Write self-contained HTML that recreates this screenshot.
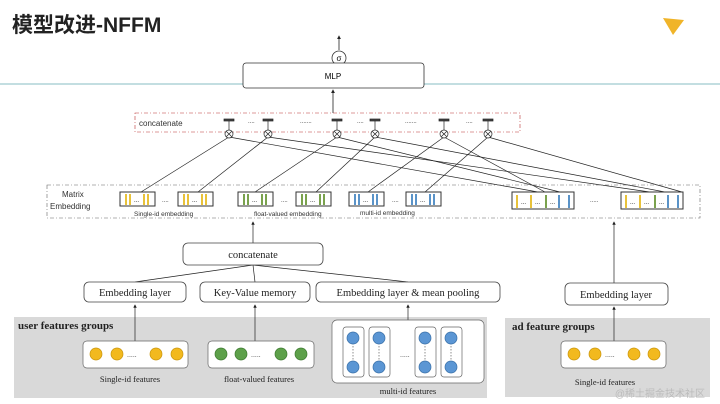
<!DOCTYPE html>
<html><head><meta charset="utf-8"><style>
html,body{margin:0;padding:0;background:#fff;}
svg{display:block;font-family:"Liberation Serif",serif;}
.s{font-family:"Liberation Sans",sans-serif;}
</style></head><body>
<svg width="720" height="404" viewBox="0 0 720 404" xmlns="http://www.w3.org/2000/svg">
<defs>
<marker id="a" markerWidth="5" markerHeight="5" refX="4" refY="2.5" orient="auto"><path d="M0,0L5,2.5L0,5z" fill="#222"/></marker>
<g id="yb"><rect x="0" y="0" width="35" height="14" fill="#fff" stroke="#333" stroke-width="1"/><rect x="5" y="2" width="2" height="11" fill="#e8c23a"/><rect x="9" y="2" width="2" height="11" fill="#e8c23a"/><text x="14" y="10" font-size="6" class="s">...</text><rect x="23" y="2" width="2" height="11" fill="#e8c23a"/><rect x="27" y="2" width="2" height="11" fill="#e8c23a"/></g>
<g id="gb"><rect x="0" y="0" width="35" height="14" fill="#fff" stroke="#333" stroke-width="1"/><rect x="5" y="2" width="2" height="11" fill="#7aa24d"/><rect x="9" y="2" width="2" height="11" fill="#7aa24d"/><text x="14" y="10" font-size="6" class="s">...</text><rect x="23" y="2" width="2" height="11" fill="#7aa24d"/><rect x="27" y="2" width="2" height="11" fill="#7aa24d"/></g>
<g id="bb"><rect x="0" y="0" width="35" height="14" fill="#fff" stroke="#333" stroke-width="1"/><rect x="5" y="2" width="2" height="11" fill="#5a93c8"/><rect x="9" y="2" width="2" height="11" fill="#5a93c8"/><text x="14" y="10" font-size="6" class="s">...</text><rect x="23" y="2" width="2" height="11" fill="#5a93c8"/><rect x="27" y="2" width="2" height="11" fill="#5a93c8"/></g>
<g id="mb"><rect x="0" y="0" width="62" height="17" fill="#fff" stroke="#333" stroke-width="1"/><rect x="4" y="3" width="2" height="13" fill="#e8c23a"/><text x="9" y="12" font-size="6" class="s">...</text><rect x="18" y="3" width="2" height="13" fill="#e8c23a"/><text x="23" y="12" font-size="6" class="s">...</text><rect x="33" y="3" width="2" height="13" fill="#7aa24d"/><text x="38" y="12" font-size="6" class="s">...</text><rect x="46" y="3" width="2" height="13" fill="#5a93c8"/><rect x="56" y="3" width="2" height="13" fill="#5a93c8"/></g>
<g id="dy"><circle r="6" fill="#f2b91e" stroke="#c9950d" stroke-width="0.7"/></g>
<g id="dg"><circle r="6" fill="#5da04a" stroke="#3d7a30" stroke-width="0.7"/></g>
<g id="db"><circle r="6" fill="#5b96d4" stroke="#3a70a8" stroke-width="0.7"/></g>
</defs>
<!-- header -->
<text x="12" y="32" font-size="21" font-weight="bold" class="s" fill="#222" font-family="Liberation Sans, Noto Sans CJK SC, sans-serif" style="font-family:'Liberation Sans','Noto Sans CJK SC',sans-serif">模型改进-NFFM</text>
<path d="M663,18 L684,20 L673,35 Z" fill="#f0b429"/>
<line x1="0" y1="84" x2="720" y2="84" stroke="#9fc9cf" stroke-width="1.2"/>
<!-- sigma and MLP -->
<line x1="339" y1="50" x2="339" y2="36" stroke="#222" stroke-width="0.8" marker-end="url(#a)"/>
<circle cx="339" cy="58" r="7" fill="#fff" stroke="#333" stroke-width="0.8"/>
<text x="339" y="61" font-size="8" text-anchor="middle" class="s">σ</text>
<line x1="339" y1="72" x2="339" y2="65" stroke="#222" stroke-width="0.8" marker-end="url(#a)"/>
<rect x="243" y="63" width="181" height="25" rx="3" fill="#fff" stroke="#333" stroke-width="0.8"/>
<text x="333" y="79" font-size="8" text-anchor="middle" class="s">MLP</text>
<line x1="333" y1="113" x2="333" y2="90" stroke="#222" stroke-width="0.8" marker-end="url(#a)"/>
<!-- concatenate box -->
<rect x="135" y="113" width="385" height="19" fill="none" stroke="#b33" stroke-width="0.6" stroke-dasharray="4,2,1,2"/>
<text x="139" y="126" font-size="8" class="s" fill="#333">concatenate</text>
<g stroke="#222" stroke-width="0.7" fill="#fff" class="s">
<g font-size="6" fill="#333" stroke="none">
<text x="248" y="123">....</text><text x="300" y="123">.......</text><text x="357" y="123">....</text><text x="405" y="123">.......</text><text x="466" y="123">....</text>
</g>
</g>
<g stroke="#222" stroke-width="0.7">
<!-- lines from crosses -->
<line x1="229" y1="137" x2="141" y2="192"/><line x1="229" y1="137" x2="538" y2="192"/>
<line x1="268" y1="137" x2="198" y2="192"/><line x1="268" y1="137" x2="650" y2="192"/>
<line x1="337" y1="137" x2="255" y2="192"/><line x1="337" y1="137" x2="560" y2="192"/>
<line x1="375" y1="137" x2="316" y2="192"/><line x1="375" y1="137" x2="665" y2="192"/>
<line x1="444" y1="137" x2="368" y2="192"/><line x1="444" y1="137" x2="545" y2="192"/>
<line x1="488" y1="137" x2="425" y2="192"/><line x1="488" y1="137" x2="682" y2="192"/>
</g>
<g stroke="#222" stroke-width="0.7" fill="#fff">
<g transform="translate(229,134)"><line x1="0" y1="-4" x2="0" y2="-13"/><rect x="-5" y="-15" width="10" height="2" fill="#444"/><circle r="4"/><path d="M-2.8,-2.8L2.8,2.8M2.8,-2.8L-2.8,2.8"/></g>
<g transform="translate(268,134)"><line x1="0" y1="-4" x2="0" y2="-13"/><rect x="-5" y="-15" width="10" height="2" fill="#444"/><circle r="4"/><path d="M-2.8,-2.8L2.8,2.8M2.8,-2.8L-2.8,2.8"/></g>
<g transform="translate(337,134)"><line x1="0" y1="-4" x2="0" y2="-13"/><rect x="-5" y="-15" width="10" height="2" fill="#444"/><circle r="4"/><path d="M-2.8,-2.8L2.8,2.8M2.8,-2.8L-2.8,2.8"/></g>
<g transform="translate(375,134)"><line x1="0" y1="-4" x2="0" y2="-13"/><rect x="-5" y="-15" width="10" height="2" fill="#444"/><circle r="4"/><path d="M-2.8,-2.8L2.8,2.8M2.8,-2.8L-2.8,2.8"/></g>
<g transform="translate(444,134)"><line x1="0" y1="-4" x2="0" y2="-13"/><rect x="-5" y="-15" width="10" height="2" fill="#444"/><circle r="4"/><path d="M-2.8,-2.8L2.8,2.8M2.8,-2.8L-2.8,2.8"/></g>
<g transform="translate(488,134)"><line x1="0" y1="-4" x2="0" y2="-13"/><rect x="-5" y="-15" width="10" height="2" fill="#444"/><circle r="4"/><path d="M-2.8,-2.8L2.8,2.8M2.8,-2.8L-2.8,2.8"/></g>
</g>
<!-- matrix embedding -->
<rect x="47" y="185" width="653" height="33" fill="none" stroke="#666" stroke-width="0.6" stroke-dasharray="4,2,1,2"/>
<text x="62" y="197" font-size="8" class="s" fill="#333">Matrix</text>
<text x="50" y="209" font-size="8" class="s" fill="#333">Embedding</text>
<use href="#yb" x="120" y="192"/><use href="#yb" x="178" y="192"/>
<use href="#gb" x="238" y="192"/><use href="#gb" x="296" y="192"/>
<use href="#bb" x="349" y="192"/><use href="#bb" x="406" y="192"/>
<use href="#mb" x="512" y="192"/><use href="#mb" x="621" y="192"/>
<g font-size="6" class="s" fill="#333"><text x="162" y="202">....</text><text x="281" y="202">....</text><text x="392" y="202">....</text><text x="590" y="202">.....</text></g>
<g font-size="6.5" class="s" fill="#333"><text x="134" y="216">Single-id embedding</text><text x="254" y="216">float-valued embedding</text><text x="360" y="215">multi-id embedding</text></g>
<!-- lower part -->
<rect x="14" y="317" width="473" height="81" fill="#d9d9d9"/>
<rect x="505" y="318" width="205" height="79" fill="#d9d9d9"/>
<g stroke="#222" stroke-width="0.7" fill="none">
<line x1="253" y1="243" x2="253" y2="222" marker-end="url(#a)"/>
<line x1="614" y1="283" x2="614" y2="222" marker-end="url(#a)"/>
<line x1="135" y1="282" x2="253" y2="265"/><line x1="255" y1="282" x2="253" y2="265"/><line x1="408" y1="282" x2="253" y2="265"/>
<line x1="135" y1="341" x2="135" y2="305" marker-end="url(#a)"/>
<line x1="255" y1="341" x2="255" y2="305" marker-end="url(#a)"/>
<line x1="408" y1="320" x2="408" y2="305" marker-end="url(#a)"/>
<line x1="614" y1="341" x2="614" y2="307" marker-end="url(#a)"/>
</g>
<g fill="#fff" stroke="#444" stroke-width="0.8">
<rect x="183" y="243" width="140" height="22" rx="5"/>
<rect x="84" y="282" width="102" height="20" rx="5"/>
<rect x="200" y="282" width="110" height="20" rx="5"/>
<rect x="316" y="282" width="184" height="20" rx="5"/>
<rect x="565" y="283" width="103" height="22" rx="5"/>
</g>
<g font-size="10.5" fill="#222" text-anchor="middle">
<text x="253" y="258">concatenate</text>
<text x="135" y="296">Embedding layer</text>
<text x="255" y="296">Key-Value memory</text>
<text x="408" y="296">Embedding layer &amp; mean pooling</text>
<text x="616" y="298">Embedding layer</text>
</g>
<text x="18" y="329" font-size="11" font-weight="bold" fill="#222">user features groups</text>
<text x="512" y="330" font-size="11" font-weight="bold" fill="#222">ad feature groups</text>
<g fill="#fff" stroke="#666" stroke-width="0.7">
<rect x="83" y="341" width="105" height="27" rx="4"/>
<rect x="208" y="341" width="106" height="27" rx="4"/>
<rect x="332" y="320" width="152" height="63" rx="5"/>
<rect x="561" y="341" width="105" height="27" rx="4"/>
<rect x="343" y="327" width="21" height="50" rx="3"/><rect x="369" y="327" width="21" height="50" rx="3"/><rect x="415" y="327" width="21" height="50" rx="3"/><rect x="441" y="327" width="21" height="50" rx="3"/>
</g>
<use href="#dy" x="96" y="354"/><use href="#dy" x="117" y="354"/><use href="#dy" x="156" y="354"/><use href="#dy" x="177" y="354"/>
<use href="#dg" x="221" y="354"/><use href="#dg" x="241" y="354"/><use href="#dg" x="281" y="354"/><use href="#dg" x="301" y="354"/>
<use href="#dy" x="574" y="354"/><use href="#dy" x="595" y="354"/><use href="#dy" x="634" y="354"/><use href="#dy" x="654" y="354"/>
<g stroke="#444" stroke-width="0.6" stroke-dasharray="1.5,1.5"><line x1="353" y1="340" x2="353" y2="365"/><line x1="379" y1="340" x2="379" y2="365"/><line x1="425" y1="340" x2="425" y2="365"/><line x1="451" y1="340" x2="451" y2="365"/></g>
<use href="#db" x="353" y="338"/><use href="#db" x="353" y="367"/><use href="#db" x="379" y="338"/><use href="#db" x="379" y="367"/>
<use href="#db" x="425" y="338"/><use href="#db" x="425" y="367"/><use href="#db" x="451" y="338"/><use href="#db" x="451" y="367"/>
<g font-size="7" fill="#333" class="s"><text x="127" y="357">.....</text><text x="251" y="357">.....</text><text x="400" y="357">.....</text><text x="605" y="357">.....</text></g>
<g font-size="8.5" fill="#222" text-anchor="middle">
<text x="130" y="382">Single-id features</text>
<text x="259" y="382">float-valued features</text>
<text x="408" y="394">multi-id features</text>
<text x="605" y="385">Single-id features</text>
</g>
<text x="705" y="397" font-size="10" fill="#bbb" text-anchor="end" style="font-family:'Liberation Sans','Noto Sans CJK SC',sans-serif">@稀土掘金技术社区</text>
</svg>
</body></html>
